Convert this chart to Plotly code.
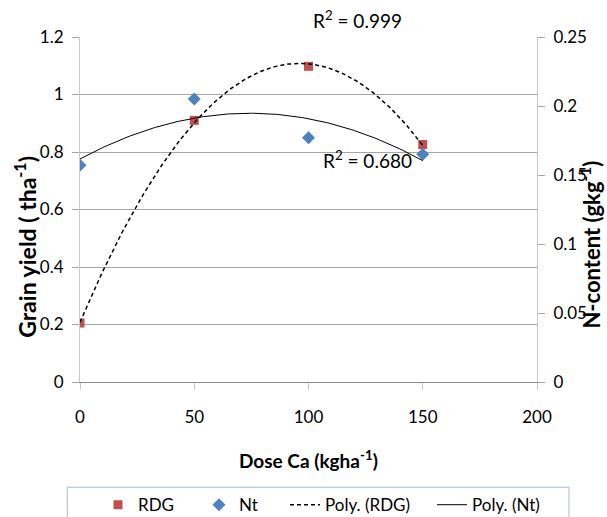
import numpy as np
import plotly.graph_objects as go

dose = [0, 50, 100, 150]
rdg = [0.205, 0.91, 1.098, 0.826]          # Grain yield (t/ha), left axis
nt = [0.157, 0.205, 0.177, 0.165]          # N-content (g/kg), right axis
x_ticks = [0, 50, 100, 150, 200]
y_left_ticks = [0, 0.2, 0.4, 0.6, 0.8, 1, 1.2]
y_right_ticks = [0, 0.05, 0.1, 0.15, 0.2, 0.25]

FONT = "Lato, Roboto, sans-serif"

# polynomial (order 2) trendlines, as in the spreadsheet
xf = np.linspace(0, 150, 151)
p_rdg = np.polyfit(dose, rdg, 2)
p_nt = np.polyfit(dose, nt, 2)

fig = go.Figure()
fig.add_trace(go.Scatter(x=dose, y=rdg, mode="markers", name="RDG",
                         marker=dict(symbol="square", size=9, color="#C0504D"),
                         yaxis="y", legend="legend"))
fig.add_trace(go.Scatter(x=dose, y=nt, mode="markers", name="Nt",
                         marker=dict(symbol="diamond", size=10, color="#4F81BD"),
                         yaxis="y2", legend="legend2"))
fig.add_trace(go.Scatter(x=xf, y=np.polyval(p_rdg, xf), mode="lines", name="Poly. (RDG)",
                         line=dict(color="black", width=1.5, dash="4px,3px"), yaxis="y",
                         legend="legend3"))
fig.add_trace(go.Scatter(x=xf, y=np.polyval(p_nt, xf), mode="lines", name="Poly. (Nt)",
                         line=dict(color="black", width=1), yaxis="y2", legend="legend4"))

leg_common = dict(orientation="h", xanchor="left", y=-0.357, yanchor="middle",
                  font=dict(size=17), bgcolor="rgba(0,0,0,0)", borderwidth=0)

fig.update_layout(
    width=607, height=517,
    margin=dict(l=80, r=70, t=37, b=135, autoexpand=False),
    paper_bgcolor="white", plot_bgcolor="white",
    font=dict(family=FONT, size=17, color="black"),
    showlegend=True,
    legend=dict(x=0.0394, **leg_common),
    legend2=dict(x=0.2604, **leg_common),
    legend3=dict(x=0.4486, **leg_common),
    legend4=dict(x=0.7702, **leg_common),
    xaxis=dict(range=[0, 200], tickvals=x_ticks, showgrid=False, zeroline=False,
               showline=True, linecolor="#8c8c8c", linewidth=1,
               ticks="outside", ticklen=7, tickcolor="#c8c8c8", tickfont=dict(size=17),
               ticklabelstandoff=13),
    yaxis=dict(range=[0, 1.2], tickvals=y_left_ticks, showgrid=True, gridcolor="#a6a6a6",
               zeroline=False, showline=True, linecolor="#c8c8c8", ticks="outside",
               ticklen=7, tickcolor="#a6a6a6", tickfont=dict(size=17),
               ticklabelstandoff=5),
    yaxis2=dict(range=[0, 0.25], tickvals=y_right_ticks, overlaying="y", side="right",
                showgrid=False, zeroline=False, showline=True, linecolor="#c8c8c8",
                ticks="outside", ticklen=7, tickcolor="#a6a6a6", tickfont=dict(size=17),
                ticklabelstandoff=5),
)

fig.add_annotation(x=-0.118, y=0.392, xref="paper", yref="paper", textangle=-90,
                   xanchor="center", yanchor="middle",
                   text="<b>Grain yield ( tha<sup>-1</sup>)</b>", showarrow=False,
                   font=dict(size=23))
fig.add_annotation(x=1.118, y=0.398, xref="paper", yref="paper", textangle=-90,
                   xanchor="center", yanchor="middle",
                   text="<b>N-content (gkg<sup>-1</sup>)</b>", showarrow=False,
                   font=dict(size=22))
fig.add_annotation(x=0.499, y=-0.226, xref="paper", yref="paper",
                   xanchor="center", yanchor="middle",
                   text="<b>Dose Ca (kgha<sup>-1</sup>)</b>", showarrow=False,
                   font=dict(size=19))
fig.add_annotation(x=0.608, y=1.051, xref="paper", yref="paper",
                   xanchor="center", yanchor="middle",
                   text="R<sup>2</sup> = 0.999", showarrow=False, font=dict(size=19))
fig.add_annotation(x=126, y=0.773, xref="x", yref="y",
                   xanchor="center", yanchor="middle",
                   text="R<sup>2</sup> = 0.680", showarrow=False, font=dict(size=19))

fig.add_shape(type="rect", xref="paper", yref="paper", x0=-0.028, x1=1.070,
              y0=-0.305, y1=-0.45, line=dict(color="#a9bcd6", width=1),
              fillcolor="rgba(0,0,0,0)", layer="below")

fig.write_html("out.html")
